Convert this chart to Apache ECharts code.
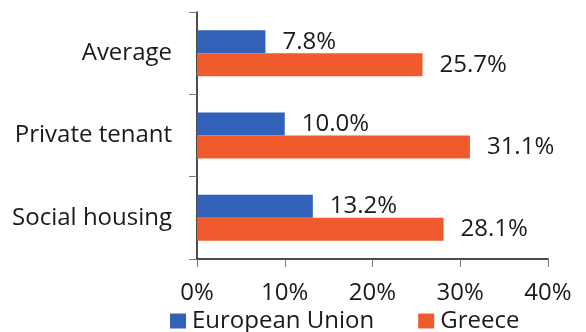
<!DOCTYPE html>
<html><head><meta charset="utf-8">
<script src="https://cdn.jsdelivr.net/npm/echarts@6/dist/echarts.min.js"></script>
<style>html,body{margin:0;padding:0;background:#fff}#c{width:586px;height:332px}</style>
</head><body><div id="c"></div>
<script>
const categories = ['Average', 'Private tenant', 'Social housing'];
const euValues = [7.8, 10.0, 13.2];
const greeceValues = [25.7, 31.1, 28.1];
const xTicks = [0, 10, 20, 30, 40];

const font = '"Open Sans", sans-serif';
const chart = echarts.init(document.getElementById('c'), null, {renderer: 'canvas'});
chart.setOption({
  animation: false,
  backgroundColor: '#fff',
  grid: {left: 197, right: 38, top: 12, bottom: 73, containLabel: false},
  legend: {
    data: ['European Union', 'Greece'],
    top: 304, left: 165,
    itemWidth: 16, itemHeight: 15, itemGap: 44,
    icon: 'rect',
    textStyle: {fontFamily: font, fontSize: 24, color: '#1a1a1a', padding: [0, 0, 0, 1]}
  },
  xAxis: {
    type: 'value', min: xTicks[0], max: xTicks[xTicks.length-1], interval: 10,
    axisLine: {show: true, lineStyle: {color: '#111', width: 1.5}},
    axisTick: {show: true, length: 8, lineStyle: {color: '#777'}},
    splitLine: {show: false},
    axisLabel: {fontFamily: font, fontSize: 24, color: '#1a1a1a', margin: 22, formatter: v => v + '%'}
  },
  yAxis: {
    type: 'category', data: categories, inverse: true,
    axisLine: {show: true, lineStyle: {color: '#111', width: 1.5}},
    axisTick: {show: true, length: 8, lineStyle: {color: '#777'}},
    axisLabel: {fontFamily: font, fontSize: 24, color: '#1a1a1a', margin: 25}
  },
  series: [
    {name: 'European Union', type: 'bar', data: euValues, barWidth: 23, barGap: '0%',
     itemStyle: {color: '#3261BA'},
     label: {show: true, position: 'right', distance: 17, fontFamily: font, fontSize: 24, color: '#1a1a1a', formatter: p => p.value.toFixed(1) + '%'}},
    {name: 'Greece', type: 'bar', data: greeceValues, barWidth: 23, barGap: '0%',
     itemStyle: {color: '#EF5B2C'},
     label: {show: true, position: 'right', distance: 17, fontFamily: font, fontSize: 24, color: '#1a1a1a', formatter: p => p.value.toFixed(1) + '%'}}
  ]
});
</script></body></html>
